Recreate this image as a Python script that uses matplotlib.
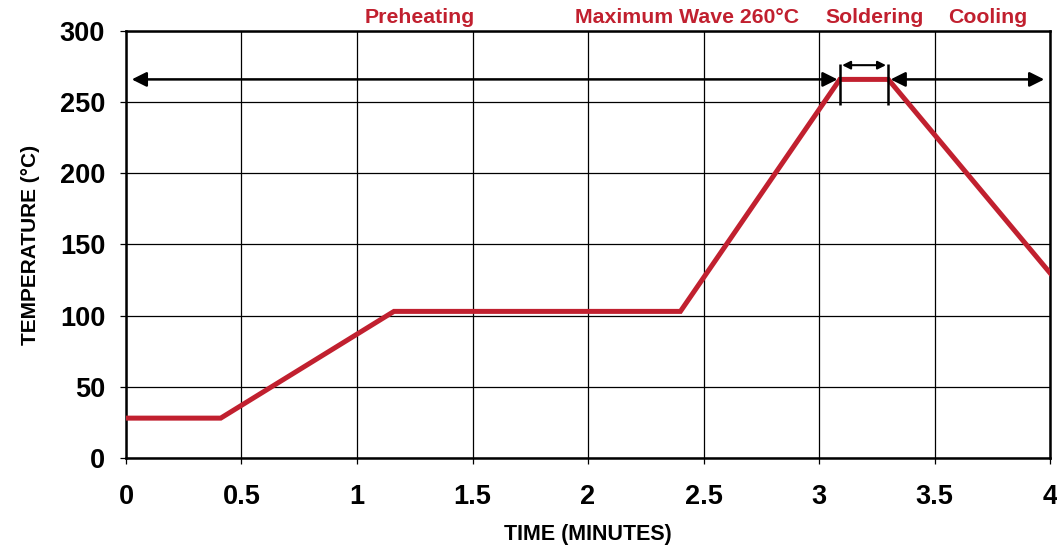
import matplotlib
matplotlib.use("Agg")
import matplotlib.pyplot as plt

# profile corners (minutes, degC)
time_min = [0, 0.41, 1.16, 2.40, 3.09, 3.30, 4.0]
temp_c = [28, 28, 103, 103, 266, 266, 130]

x_ticks = [0, 0.5, 1, 1.5, 2, 2.5, 3, 3.5, 4]
x_ticklabels = ["0", "0.5", "1", "1.5", "2", "2.5", "3", "3.5", "4"]
y_ticks = [0, 50, 100, 150, 200, 250, 300]

phase_names = ["Preheating", "Maximum Wave 260°C", "Soldering", "Cooling"]
phase_x = [1.27, 2.43, 3.24, 3.73]

RED = "#c1202f"

plt.rcParams["font.family"] = ["Liberation Sans", "DejaVu Sans"]
plt.rcParams["font.weight"] = "bold"

fig = plt.figure(figsize=(10.57, 5.46), dpi=100)
ax = fig.add_axes([0.1192, 0.1612, 0.8742, 0.782])

ax.plot(time_min, temp_c, color=RED, lw=3.6, solid_joinstyle="miter", zorder=3)

ax.set_xlim(0, 4)
ax.set_ylim(0, 300)
ax.set_xticks(x_ticks)
ax.set_xticklabels(x_ticklabels)
ax.set_yticks(y_ticks)
ax.grid(True, color="black", lw=0.9)
ax.tick_params(length=4, width=0.9, labelsize=19.5)
ax.tick_params(axis="x", pad=15)
ax.tick_params(axis="y", pad=11)
for lab in ax.get_xticklabels() + ax.get_yticklabels():
    lab.set_fontweight("bold")
for sp in ax.spines.values():
    sp.set_linewidth(1.8)

ax.set_xlabel("TIME (MINUTES)", fontsize=15.5, fontweight="bold", labelpad=10)
ax.set_ylabel("TEMPERATURE (°C)", fontsize=15, fontweight="bold", labelpad=14)

# arrows at peak level
peak = temp_c[4]
t_on, t_off = time_min[4], time_min[5]
arrow = dict(arrowstyle="<|-|>", color="black", lw=1.8, mutation_scale=22,
             shrinkA=0, shrinkB=0)
ax.annotate("", xy=(0.025, peak), xytext=(t_on - 0.01, peak), arrowprops=arrow, zorder=4)
ax.annotate("", xy=(t_off + 0.01, peak), xytext=(3.975, peak), arrowprops=arrow, zorder=4)
small = dict(arrowstyle="<|-|>", color="black", lw=1.5, mutation_scale=12,
             shrinkA=0, shrinkB=0)
ax.annotate("", xy=(t_on + 0.01, 276), xytext=(t_off - 0.01, 276), arrowprops=small, zorder=4)
ax.vlines([t_on, t_off], 248, 277, color="black", lw=1.8, zorder=4)

for name, xp in zip(phase_names, phase_x):
    ax.text(xp, 303, name, color=RED, fontsize=15.3, fontweight="bold",
            ha="center", va="bottom")

fig.savefig("out.png", dpi=100)
